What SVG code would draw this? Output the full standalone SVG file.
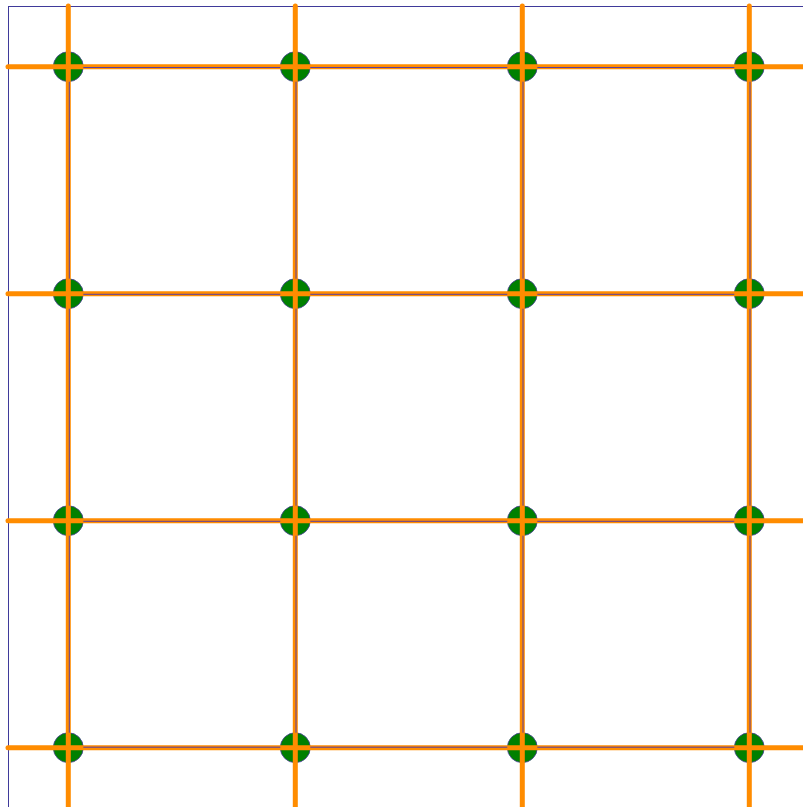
<svg xmlns="http://www.w3.org/2000/svg" width="803" height="807" viewBox="0 0 803 807">
<style>
.node{fill:#008000;stroke:#4b3f9a;stroke-width:0.8}
.grid{stroke:#ff8c00;stroke-width:5;stroke-linecap:round;fill:none}
.edgec{stroke:#5a3fa0;stroke-width:1;fill:none}
</style>
<rect x="8.5" y="6.5" width="810" height="820" fill="#fff" stroke="#3f3a9a" stroke-width="1"/>
<g id="n00"><circle class="node" cx="68.3" cy="66.7" r="15"/></g>
<g id="n01"><circle class="node" cx="295.3" cy="66.7" r="15"/></g>
<g id="n02"><circle class="node" cx="522.3" cy="66.7" r="15"/></g>
<g id="n03"><circle class="node" cx="749.3" cy="66.7" r="15"/></g>
<g id="n10"><circle class="node" cx="68.3" cy="293.7" r="15"/></g>
<g id="n11"><circle class="node" cx="295.3" cy="293.7" r="15"/></g>
<g id="n12"><circle class="node" cx="522.3" cy="293.7" r="15"/></g>
<g id="n13"><circle class="node" cx="749.3" cy="293.7" r="15"/></g>
<g id="n20"><circle class="node" cx="68.3" cy="520.7" r="15"/></g>
<g id="n21"><circle class="node" cx="295.3" cy="520.7" r="15"/></g>
<g id="n22"><circle class="node" cx="522.3" cy="520.7" r="15"/></g>
<g id="n23"><circle class="node" cx="749.3" cy="520.7" r="15"/></g>
<g id="n30"><circle class="node" cx="68.3" cy="747.7" r="15"/></g>
<g id="n31"><circle class="node" cx="295.3" cy="747.7" r="15"/></g>
<g id="n32"><circle class="node" cx="522.3" cy="747.7" r="15"/></g>
<g id="n33"><circle class="node" cx="749.3" cy="747.7" r="15"/></g>
<g id="connectors">
<g class="grid">
<line x1="8" y1="66.7" x2="810" y2="66.7"/>
<line x1="8" y1="293.7" x2="810" y2="293.7"/>
<line x1="8" y1="520.7" x2="810" y2="520.7"/>
<line x1="8" y1="747.7" x2="810" y2="747.7"/>
<line x1="68.3" y1="6" x2="68.3" y2="815"/>
<line x1="295.3" y1="6" x2="295.3" y2="815"/>
<line x1="522.3" y1="6" x2="522.3" y2="815"/>
<line x1="749.3" y1="6" x2="749.3" y2="815"/>
</g>
<g class="edgec">
<path d="M83.3 67.5H280.3M310.3 67.5H507.3M537.3 67.5H734.3"/>
<path d="M83.3 294.3H280.3M310.3 294.3H507.3M537.3 294.3H734.3"/>
<path d="M83.3 521.3H280.3M310.3 521.3H507.3M537.3 521.3H734.3"/>
<path d="M83.3 747.2H280.3M310.3 747.2H507.3M537.3 747.2H734.3"/>
<path d="M69.3 81.7V278.7M69.3 308.7V505.7M69.3 535.7V732.7"/>
<path d="M296 81.7V278.7M296 308.7V505.7M296 535.7V732.7"/>
<path d="M523 81.7V278.7M523 308.7V505.7M523 535.7V732.7"/>
<path d="M750 81.7V278.7M750 308.7V505.7M750 535.7V732.7"/>
</g>
</g>
</svg>
